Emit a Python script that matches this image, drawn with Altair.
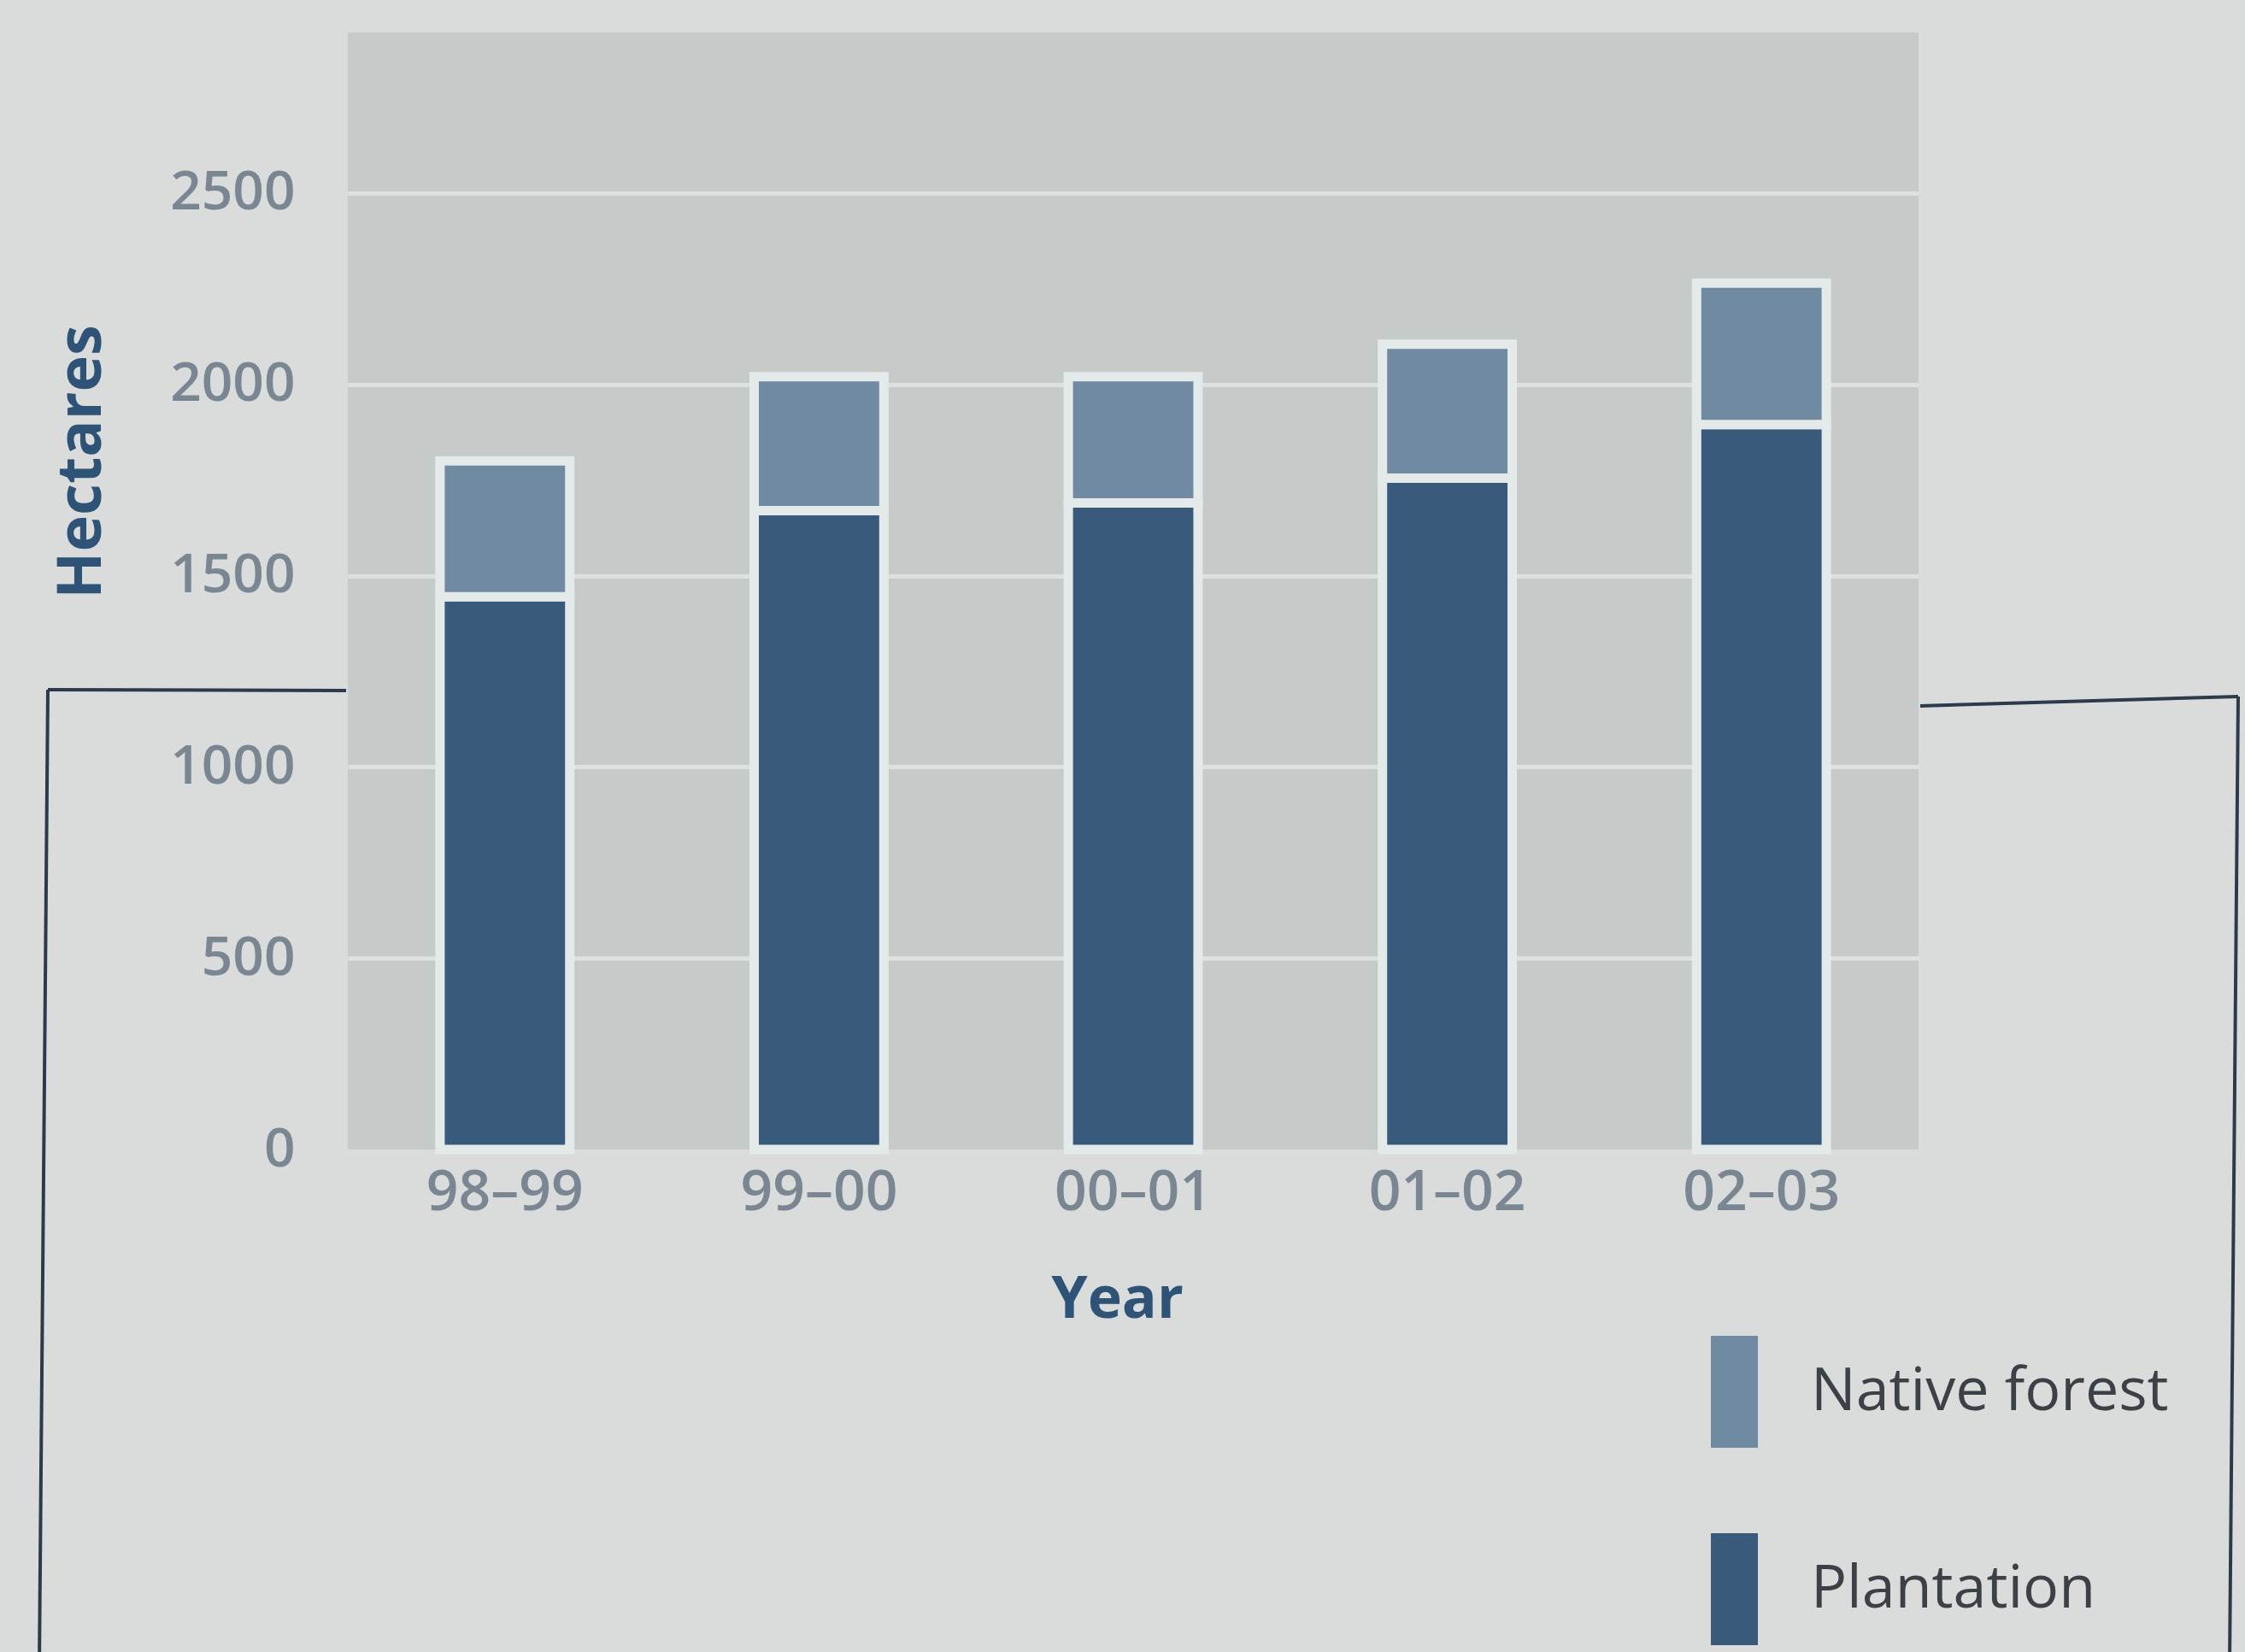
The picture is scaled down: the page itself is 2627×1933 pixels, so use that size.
import altair as alt
import pandas as pd

# Area planted per year (hectares), stacked by forest type
years = ["98–99", "99–00", "00–01", "01–02", "02–03"]
plantation = [1445, 1670, 1690, 1755, 1895]
native_forest = [355, 350, 330, 350, 370]

series = ["Native forest", "Plantation"]
series_colors = ["#6f8aa1", "#3a5a7c"]
y_ticks = [0, 500, 1000, 1500, 2000, 2500]

rows = []
for yr, p, n in zip(years, plantation, native_forest):
    rows.append({"Year": yr, "Type": "Plantation", "Hectares": p, "stack": 0})
    rows.append({"Year": yr, "Type": "Native forest", "Hectares": n, "stack": 1})
df = pd.DataFrame(rows)

PLOT_W, PLOT_H = 1838, 1307
FONT = "Open Sans"
TICK_COLOR = "#7a8793"
TITLE_COLOR = "#2f5377"

bars = alt.Chart(df).mark_bar(stroke="#e4eaea", strokeWidth=11, opacity=1).encode(
    x=alt.X(
        "Year:N",
        sort=years,
        scale=alt.Scale(paddingInner=0.587, paddingOuter=0.2935),
        axis=alt.Axis(
            title="Year",
            labelAngle=0,
            labelFont=FONT,
            labelFontSize=66,
            labelFontWeight=600,
            labelColor=TICK_COLOR,
            labelPadding=18,
            labelLimit=1000,
            ticks=False,
            domain=False,
            grid=False,
            titleFont=FONT,
            titleFontSize=68,
            titleFontWeight="bold",
            titleColor=TITLE_COLOR,
            titleX=900,
            titleY=176,
            titleAlign="center",
            titleBaseline="middle",
        ),
    ),
    y=alt.Y(
        "Hectares:Q",
        stack="zero",
        scale=alt.Scale(domain=[0, 2920], nice=False),
        axis=alt.Axis(
            values=y_ticks,
            format="d",
            title="Hectares",
            titleAngle=270,
            titleX=-312,
            titleY=502,
            titleAlign="center",
            titleBaseline="middle",
            titleFont=FONT,
            titleFontSize=72,
            titleFontWeight="bold",
            titleColor=TITLE_COLOR,
            labelFont=FONT,
            labelFontSize=64,
            labelFontWeight=600,
            labelColor=TICK_COLOR,
            labelPadding=62,
            ticks=False,
            domain=False,
            grid=True,
            gridColor="#dde2e1",
            gridWidth=5,
            gridOpacity={"condition": {"test": "datum.value === 0", "value": 0}, "value": 1},
        ),
    ),
    color=alt.Color(
        "Type:N",
        scale=alt.Scale(domain=series, range=series_colors),
        legend=alt.Legend(
            title=None,
            orient="none",
            legendX=1557,
            legendY=1525,
            padding=0,
            symbolType="M-0.42,-1H0.42V1H-0.42Z",
            symbolSize=17161,
            symbolStrokeWidth=0,
            symbolOpacity=1,
            labelFont=FONT,
            labelFontSize=70,
            labelColor="#3b4146",
            labelOffset=24,
            labelLimit=900,
            rowPadding=100,
        ),
    ),
    order=alt.Order("stack:Q", sort="ascending"),
)

# Dark frame of the surrounding box, visible outside the plot area
FRAME = "#2d3a4a"
one = pd.DataFrame({"k": [0]})


def frame_line(x, y, x2, y2):
    return alt.Chart(one).mark_rule(color=FRAME, strokeWidth=4, clip=False).encode(
        x=alt.value(x), y=alt.value(y), x2=alt.value(x2), y2=alt.value(y2)
    )


frame = [
    frame_line(-351, 769, -2, 770),
    frame_line(-351, 769, -361, 1910),
    frame_line(1840, 788, 2212, 777),
    frame_line(2212, 777, 2202, 1910),
]

chart = (
    alt.layer(bars, *frame)
    .properties(
        width=PLOT_W,
        height=PLOT_H,
        padding={"left": 407, "top": 38, "right": 382, "bottom": 588},
        autosize=alt.AutoSizeParams(type="none"),
        background="#dadcdb",
    )
    .configure_view(fill="#c6cbca", strokeWidth=0)
)

chart.save("out.html", embed_options={"renderer": "svg", "actions": False})
